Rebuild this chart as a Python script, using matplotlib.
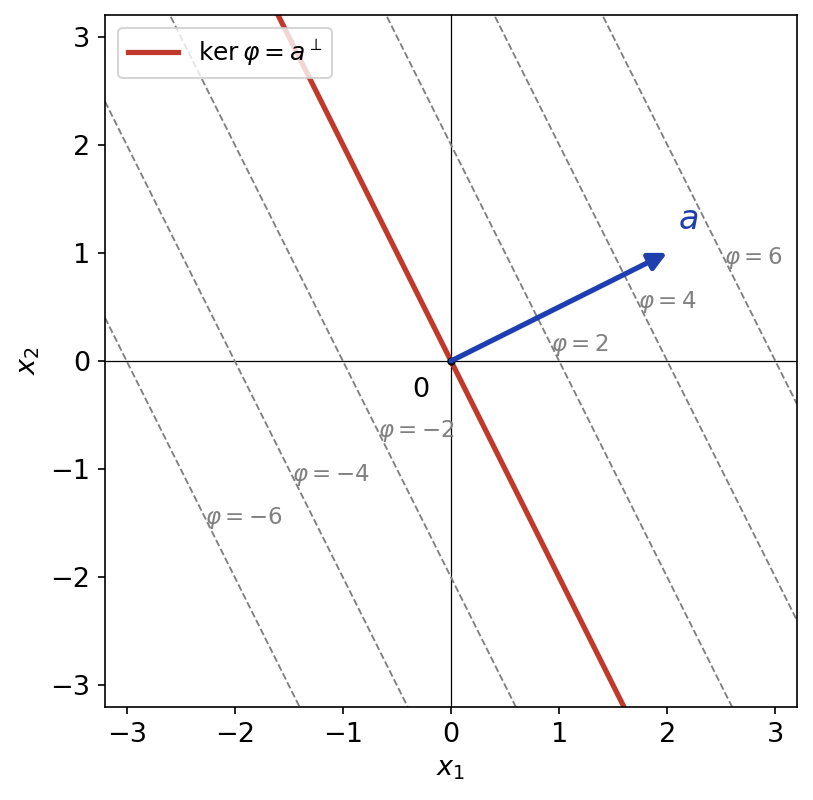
import numpy as np
import matplotlib.pyplot as plt

a = np.array([2.0, 1.0])
levels = [-6, -4, -2, 2, 4, 6]
lim = 3.2

fig = plt.figure(figsize=(813 / 150, 800 / 150), dpi=150)
ax = fig.add_axes([105 / 813, 93 / 800, 692 / 813, 692 / 800])

xs = np.linspace(-lim, lim, 200)
ax.axhline(0, color='black', lw=0.6)
ax.axvline(0, color='black', lw=0.6)

for c in levels:
    ax.plot(xs, c - a[0] * xs, '--', color='gray', lw=0.9)
    y = 0.2 * c - 0.25
    ax.text((c - y) / a[0], y, r'$\varphi = %d$' % c, color='gray',
            fontsize=11, ha='left', va='center')

ax.plot(xs, -a[0] * xs, color='#c0392b', lw=2.5, label=r'$\ker\varphi = a^\perp$')
ax.annotate('', xy=(a[0], a[1]), xytext=(0, 0),
            arrowprops=dict(arrowstyle='-|>,head_width=0.35,head_length=0.7',
                            color='#1f3fae', lw=2.5, shrinkA=0, shrinkB=0))
ax.plot(0, 0, 'o', color='black', ms=3)
ax.text(2.1, 1.22, r'$a$', color='#1f3fae', fontsize=16)
ax.text(-0.28, -0.27, '0', fontsize=13, ha='center', va='center')

ax.set_xlim(-lim, lim)
ax.set_ylim(-lim, lim)
ax.set_aspect('equal')
ax.set_xlabel(r'$x_1$', fontsize=13)
ax.set_ylabel(r'$x_2$', fontsize=13)
ax.tick_params(labelsize=13)
ax.legend(loc='upper left', fontsize=12)

fig.savefig('out.png', dpi=150)
